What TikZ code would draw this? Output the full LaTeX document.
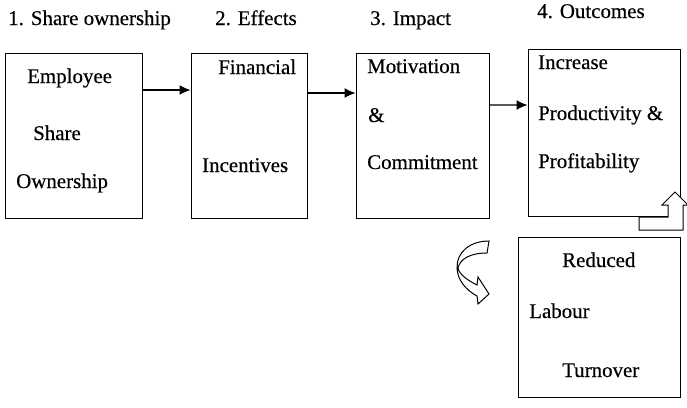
\documentclass[tikz,border=0pt]{standalone}
\usepackage{fontspec}
\setmainfont{Liberation Serif}
\newfontfamily\scanfont{Liberation Serif}[FakeBold=0.4]
\usetikzlibrary{arrows.meta}

\tikzset{
  box/.style={draw, line width=1bp, rectangle, inner sep=0pt},
  txt/.style={anchor=base west, inner sep=0pt, font=\scanfont\fontsize{21}{24}\selectfont},
  arr/.style={line width=1.2bp, -{Latex[length=11bp,width=10bp]}},
  bigarrow/.style={draw, fill=white, line width=1bp, line join=miter}
}

\begin{document}
\begin{tikzpicture}[x=1bp, y=-1bp]

  \useasboundingbox (0,0) rectangle (687,407);

  %% headings
  \node[txt] (h1) at (8,25)  {1. Share ownership};
  \node[txt] (h2) at (215,25) {2. Effects};
  \node[txt] (h3) at (370,25) {3. Impact};
  \node[txt] (h4) at (537,18) {4. Outcomes};

  %% boxes
  \node[box, minimum width=136bp, minimum height=165bp] (own) at (74,135.5) {};
  \node[box, minimum width=116bp, minimum height=165bp] (fin) at (249,135.5) {};
  \node[box, minimum width=133bp, minimum height=165bp] (mot) at (422.5,135.5) {};
  \node[box, minimum width=152bp, minimum height=167bp] (outc) at (604,132.5) {};
  \node[box, minimum width=162bp, minimum height=160bp] (lab) at (599,317) {};

  %% texts in the boxes
  \node[txt] (own1) at (27,83)  {Employee};
  \node[txt] (own2) at (33,140) {Share};
  \node[txt] (own3) at (16,188) {Ownership};

  \node[txt] (fin1) at (218,74)  {Financial};
  \node[txt] (fin2) at (202,172) {Incentives};

  \node[txt] (mot1) at (367,73)  {Motivation};
  \node[txt] (mot2) at (368,122) {\&};
  \node[txt] (mot3) at (367,169) {Commitment};

  \node[txt] (outc1) at (538,69)  {Increase};
  \node[txt] (outc2) at (538,120) {Productivity \&};
  \node[txt] (outc3) at (538,168) {Profitability};

  \node[txt] (lab1) at (562,267) {Reduced};
  \node[txt] (lab2) at (529,318) {Labour};
  \node[txt] (lab3) at (562,377) {Turnover};

  %% arrows between the boxes
  \draw[arr] ([yshift=45.5bp]own.east) -- ([yshift=45.5bp]fin.west); % own->fin
  \draw[arr] ([yshift=42.5bp]fin.east) -- ([yshift=42.5bp]mot.west); % fin->mot
  \draw[arr] ([yshift=30.5bp]mot.east) -- ([yshift=27.5bp]outc.west); % mot->outc

  %% block arrow up, at the corner of outc
  \draw[bigarrow] (639,217) -- (668,217) -- (668,205) -- (662,205) -- (675,192)
    -- (688,205) -- (683,205) -- (683,230) -- (639,230) -- cycle;

  %% curved block arrow, left of lab
  \draw[bigarrow] (489,241) .. controls (470,241) and (457,252) .. (457,267)
    .. controls (457,280) and (466,290) .. (477,296) -- (478,304) -- (489,294)
    -- (478,277) -- (477,285) .. controls (467,280) and (459,274) .. (458,268)
    .. controls (460,259) and (470,253) .. (487,253) -- cycle;

\end{tikzpicture}
\end{document}
